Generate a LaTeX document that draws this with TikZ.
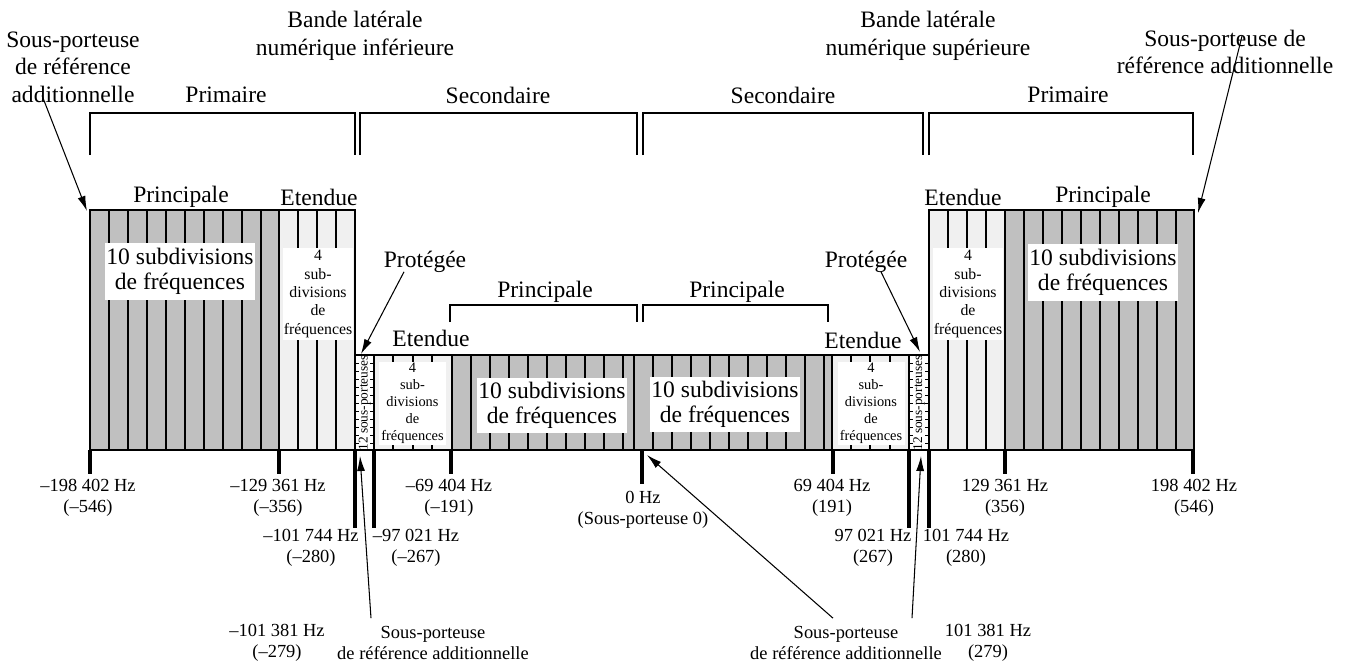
\documentclass[tikz,border=0pt]{standalone}
\usepackage{fontspec}
\setmainfont{Liberation Serif}
\usepackage{xcolor}
\usepackage{tikz}
\usetikzlibrary{calc}
\usetikzlibrary{arrows.meta}
\usetikzlibrary{positioning}

\definecolor{mainband}{HTML}{C0C0C0}
\definecolor{extband}{HTML}{F0F0F0}

\tikzset{
  toplabel/.style={align=center, font=\fontsize{13.4}{15.6}\selectfont, inner sep=1pt},
  freqlabel/.style={align=center, font=\fontsize{10.5}{12}\selectfont, inner sep=1pt},
  bigsub/.style={fill=white, align=center, font=\fontsize{13.4}{14.4}\selectfont, inner sep=0pt, minimum width=3cm, minimum height=1.14cm},
  smallsub/.style={fill=white, align=center, font=\fontsize{9}{10.4}\selectfont, inner sep=0pt, minimum width=1.4cm, minimum height=1.84cm},
  tinysub/.style={fill=white, align=center, font=\fontsize{8.2}{9.6}\selectfont, inner sep=0pt, minimum width=1.34cm, minimum height=1.66cm},
  protlabel/.style={rotate=90, font=\fontsize{7.6}{8}\selectfont, inner sep=0pt},
  part/.style={line width=1.1pt},
  edge/.style={line width=1.5pt},
  tick/.style={line width=1.8pt},
  bracket/.style={line width=0.7pt},
  pointer/.style={line width=0.6pt, -{Latex[length=3mm,width=1.6mm]}},
}

\begin{document}
\begin{tikzpicture}[x=0.02cm, y=-0.02cm]
\useasboundingbox (0,0) rectangle (1352,663);

% labels above
\node[toplabel] (subL) at (73,67) {Sous-porteuse\\de référence\\additionnelle};
\node[toplabel] (bandL) at (355,36) {Bande latérale\\numérique inférieure};
\node[toplabel] (bandR) at (928,36) {Bande latérale\\numérique supérieure};
\node[toplabel] (subR) at (1225,52) {Sous-porteuse de\\référence additionnelle};
\node[toplabel] (primL) at (226,95) {Primaire};
\node[toplabel] (secL) at (498,95) {Secondaire};
\node[toplabel] (secR) at (783,95) {Secondaire};
\node[toplabel] (primR) at (1068,95) {Primaire};

\draw[bracket] (90,155) -- (90,113) -- (355,113) -- (355,155);
\draw[bracket] (360,155) -- (360,113) -- (637,113) -- (637,155);
\draw[bracket] (643,155) -- (643,113) -- (923,113) -- (923,155);
\draw[bracket] (929,155) -- (929,113) -- (1193,113) -- (1193,155);

\node[toplabel] (mainL) at (181,197) {Principale};
\node[toplabel] (extL) at (319,197) {Etendue};
\node[toplabel] (extR) at (963,197) {Etendue};
\node[toplabel] (mainR) at (1103,197) {Principale};

% primary, lower side
\fill[mainband] (90,210) rectangle (279,450);
\fill[extband] (279,210) rectangle (355,450);
\foreach \x in {109,128,...,261} \draw[part] (\x,210) -- (\x,450);
\foreach \x in {298,317,336} \draw[part] (\x,210) -- (\x,450);
\node[bigsub] (partPL) at (180,271) {10 subdivisions\\de fréquences};
\node[smallsub] (partEL) at (318,294) {4\\sub-\\divisions\\de\\fréquences};
\draw[edge] (90,210) rectangle (355,450);
\draw[edge] (279,210) -- (279,450);

% primary, upper side
\fill[extband] (929,210) rectangle (1005,450);
\fill[mainband] (1005,210) rectangle (1194,450);
\foreach \x in {948,967,986} \draw[part] (\x,210) -- (\x,450);
\foreach \x in {1024,1043,...,1176} \draw[part] (\x,210) -- (\x,450);
\node[smallsub] (partER) at (968,294) {4\\sub-\\divisions\\de\\fréquences};
\node[bigsub] (partPR) at (1103,272) {10 subdivisions\\de fréquences};
\draw[edge] (929,210) rectangle (1194,450);
\draw[edge] (1005,210) -- (1005,450);

% secondary
\fill[white] (355,355) rectangle (374,450);
\fill[extband] (374,355) rectangle (452,450);
\fill[mainband] (452,355) rectangle (832,450);
\fill[extband] (832,355) rectangle (909,450);
\fill[white] (909,355) rectangle (929,450);
\foreach \x in {393,413,432} \draw[part] (\x,355) -- (\x,450);
\foreach \x in {471,490,...,623} \draw[part] (\x,355) -- (\x,450);
\foreach \x in {653,672,...,824} \draw[part] (\x,355) -- (\x,450);
\foreach \x in {851,870,890} \draw[part] (\x,355) -- (\x,450);
\foreach \y in {363,371,...,443} {
  \draw[line width=0.5pt] (356,\y) -- (359,\y);
  \draw[line width=0.5pt] (373,\y) -- (370,\y);
  \draw[line width=0.5pt] (910,\y) -- (913,\y);
  \draw[line width=0.5pt] (928,\y) -- (925,\y);
}
\node[protlabel] (protTxtL) at (364.5,403) {12 sous-porteuses};
\node[protlabel] (protTxtR) at (919,403) {12 sous-porteuses};
\node[tinysub] (partESL) at (412.5,403.5) {4\\sub-\\divisions\\de\\fréquences};
\node[bigsub, minimum height=1.1cm] (partPSL) at (552,405.5) {10 subdivisions\\de fréquences};
\node[bigsub, minimum height=1.1cm] (partPSR) at (725,404.5) {10 subdivisions\\de fréquences};
\node[tinysub] (partESR) at (871,403.5) {4\\sub-\\divisions\\de\\fréquences};
\draw[edge] (355,355) rectangle (929,450);
\foreach \x in {374,452,634,832,909} \draw[edge] (\x,355) -- (\x,450);

% secondary labels
\node[toplabel] (protL) at (425,262) {Protégée};
\node[toplabel] (protR) at (866,262) {Protégée};
\node[toplabel] (mainSL) at (545,292) {Principale};
\node[toplabel] (mainSR) at (737,292) {Principale};
\draw[bracket] (450,322) -- (450,305) -- (637,305) -- (637,322);
\draw[bracket] (643,322) -- (643,305) -- (828,305) -- (828,322);
\node[toplabel] (extSL) at (431,338) {Etendue};
\node[toplabel] (extSR) at (863,340) {Etendue};

% frequency ticks
\foreach \x in {90,279,451,833,1005,1193} \draw[tick] (\x,450) -- (\x,474);
\draw[tick] (642,450) -- (642,484);
\foreach \x in {355,374,909,929} \draw[tick] (\x,450) -- (\x,528);

\node[freqlabel] (fLo198) at (88,497.5) {–198 402 Hz\\(–546)};
\node[freqlabel] (fLo129) at (278,497.5) {–129 361 Hz\\(–356)};
\node[freqlabel] (fLo69) at (449,497.5) {–69 404 Hz\\(–191)};
\node[freqlabel] (fZero) at (643,510) {0 Hz\\(Sous-porteuse 0)};
\node[freqlabel] (fUp69) at (832,497.5) {69 404 Hz\\(191)};
\node[freqlabel] (fUp129) at (1005,497.5) {129 361 Hz\\(356)};
\node[freqlabel] (fUp198) at (1194,497.5) {198 402 Hz\\(546)};
\node[freqlabel] (fLo101) at (311,548) {–101 744 Hz\\(–280)};
\node[freqlabel] (fLo97) at (416,548) {–97 021 Hz\\(–267)};
\node[freqlabel] (fUp97) at (873,548) {97 021 Hz\\(267)};
\node[freqlabel] (fUp101) at (966,548) {101 744 Hz\\(280)};
\node[freqlabel] (fLoRef) at (277,643) {–101 381 Hz\\(–279)};
\node[freqlabel] (subBL) at (433,643) {Sous-porteuse\\de référence additionnelle};
\node[freqlabel] (subBR) at (846,643) {Sous-porteuse\\de référence additionnelle};
\node[freqlabel] (fUpRef) at (988,643) {101 381 Hz\\(279)};

% pointers
\coordinate (cornerL) at (87,211);
\coordinate (cornerR) at (1198,213);
\coordinate (refLo) at (360,456);
\coordinate (refZero) at (647,455);
\coordinate (refUp) at (921,456);
\draw[pointer] ($(subL.south)+(-31,-9)$) -- (cornerL);
\draw[pointer] ($(subR.south)+(17,-40)$) -- (cornerR);
\draw[pointer] ($(protL.south)+(-21,-3)$) -- (361,354);
\draw[pointer] ($(protR.south)+(15,-3)$) -- (920,352);
\draw[pointer] ($(subBL.north)+(-62,-6)$) -- (refLo);
\draw[pointer] ($(subBR.north)+(-13,-6)$) -- (refZero);
\draw[pointer] ($(subBR.north)+(66,-6)$) -- (refUp);
\end{tikzpicture}
\end{document}
